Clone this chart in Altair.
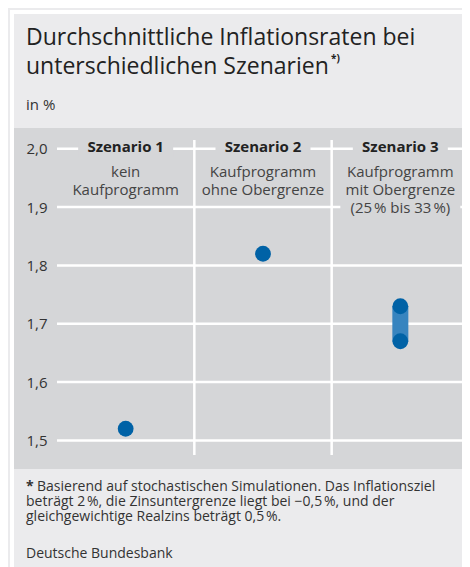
import altair as alt
import pandas as pd

# ---- data ----
scenarios = ["Szenario 1", "Szenario 2", "Szenario 3"]
descriptions = ["kein\nKaufprogramm", "Kaufprogramm\nohne Obergrenze", "Kaufprogramm\nmit Obergrenze\n(25\u202f% bis 33\u202f%)"]
low_values = [1.52, 1.82, 1.67]
high_values = [1.52, 1.82, 1.73]
y_ticks = [1.5, 1.6, 1.7, 1.8, 1.9, 2.0]

title_lines = ["Durchschnittliche Inflationsraten bei", "unterschiedlichen Szenarien"]
unit_label = "in %"
footnote_lines = [
    "Basierend auf stochastischen Simulationen. Das Inflationsziel",
    "beträgt 2\u202f%, die Zinsuntergrenze liegt bei \u22120,5\u202f%, und der",
    "gleichgewichtige Realzins beträgt 0,5\u202f%.",
]
source_label = "Deutsche Bundesbank"

FONT = "Open Sans"
OUTER = "#ebebed"
PANEL = "#d5d6d8"
DOT = "#0062a6"
RANGE = "#3784bf"

W, H = 412, 315

df = pd.DataFrame({"scenario": scenarios, "desc": descriptions, "lo": low_values, "hi": high_values})
pts = pd.DataFrame({
    "scenario": [s for s in scenarios for _ in range(2)],
    "value": [v for pair in zip(low_values, high_values) for v in pair],
}).drop_duplicates()
ticks_df = pd.DataFrame({"t": y_ticks})

xscale = alt.Scale(domain=scenarios, paddingInner=0, paddingOuter=0)
xs = alt.X("scenario:N", sort=scenarios, axis=None, scale=xscale)
yscale = alt.Scale(domain=[1.475, 2.015], nice=False, zero=False)

one = pd.DataFrame({"a": [0]})

# decorative background frame and panel
frame = alt.Chart(one).mark_rect(color="white").encode(
    x=alt.value(-47), x2=alt.value(W + 10), y=alt.value(-130), y2=alt.value(H + 140))
inner = alt.Chart(one).mark_rect(color=OUTER).encode(
    x=alt.value(-43), x2=alt.value(W + 10), y=alt.value(-126), y2=alt.value(H + 140))
panel = alt.Chart(one).mark_rect(color=PANEL).encode(
    x=alt.value(-43), x2=alt.value(W + 10), y=alt.value(-12), y2=alt.value(H + 14))

# gridlines (as rules, above the panel) and axis labels
grid = alt.Chart(ticks_df).mark_rule(color="white", strokeWidth=2.5).encode(
    x=alt.value(0), x2=alt.value(W),
    y=alt.Y("t:Q", scale=yscale,
            axis=alt.Axis(values=y_ticks, grid=False, domain=False, ticks=False,
                          labelPadding=10, title=None, zindex=1,
                          labelFont=FONT, labelFontSize=15, labelColor="#333",
                          labelExpr="replace(format(datum.value, '.1f'), '.', ',')")))

vrules = alt.Chart(df[df.scenario != scenarios[0]]).mark_rule(color="white", strokeWidth=2.5).encode(
    x=alt.X("scenario:N", sort=scenarios, axis=None, bandPosition=0, scale=xscale),
    y=alt.value(0), y2=alt.value(H))

# boxes masking gridlines behind header text
hbox = alt.Chart(df).mark_bar(color=PANEL, size=95).encode(
    x=xs, y=alt.datum(1.985, scale=yscale), y2=alt.datum(2.015))
dbox = alt.Chart(df[df.scenario == scenarios[2]]).mark_bar(color=PANEL, size=120).encode(
    x=xs, y=alt.datum(1.89, scale=yscale), y2=alt.datum(1.91))

headers = alt.Chart(df).mark_text(font=FONT, fontSize=15, fontWeight="bold", color="#222",
                                  baseline="alphabetic").encode(
    x=xs, y=alt.value(12), text="scenario:N")
descs = alt.Chart(df).mark_text(font=FONT, fontSize=15, color="#444", baseline="alphabetic",
                                lineBreak="\n", lineHeight=18).encode(
    x=xs, y=alt.value(37), text="desc:N")

rng = alt.Chart(df[df.lo != df.hi]).mark_bar(color=RANGE, size=16).encode(
    x=xs, y=alt.Y("lo:Q", scale=yscale), y2="hi:Q")
dots = alt.Chart(pts).mark_circle(color=DOT, opacity=1, size=250).encode(
    x=xs, y=alt.Y("value:Q", scale=yscale))

def txt(s, x, y, size, weight="normal", color="#333"):
    return alt.Chart(one).mark_text(text=s, font=FONT, fontSize=size, fontWeight=weight,
                                    color=color, align="left", baseline="alphabetic").encode(
        x=alt.value(x), y=alt.value(y))

texts = [
    txt(title_lines[0], -31, -95, 23, color="#222"),
    txt(title_lines[1], -31, -66, 23, color="#222"),
    txt("*)", 274, -78, 10, "bold", "#222"),
    txt(unit_label, -31, -30, 15),
    txt("*", -31, 351, 14, "bold"),
    txt(footnote_lines[0], -20, 351, 14),
    txt(footnote_lines[1], -31, 366, 14),
    txt(footnote_lines[2], -31, 381, 14),
    txt(source_label, -31, 418, 14),
]

chart = alt.layer(frame, inner, panel, grid, vrules, hbox, dbox, headers, descs, rng, dots, *texts).properties(
    width=W, height=H,
    autosize=alt.AutoSizeParams(type="none"),
    padding={"left": 49, "top": 132, "right": -7, "bottom": 112},
    background=OUTER,
).configure_view(stroke=None)

chart.save("out.html", embed_options={"renderer": "svg", "actions": False})
